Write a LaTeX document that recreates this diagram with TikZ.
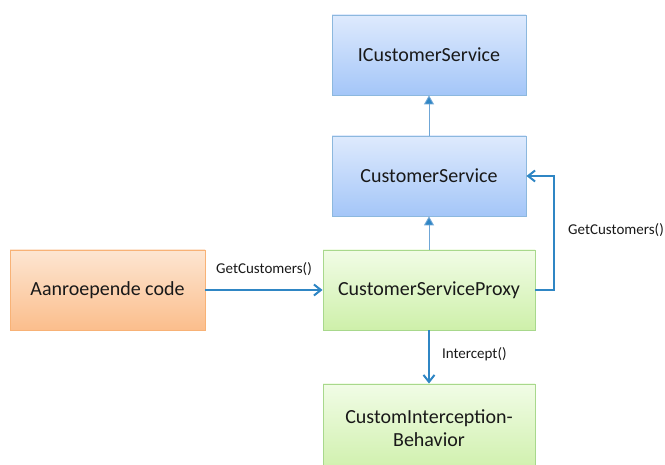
\documentclass[tikz,border=0pt]{standalone}
\usepackage{fontspec}
\setmainfont{Carlito}
\usetikzlibrary{arrows.meta}
\definecolor{arrowblue}{HTML}{2F86C4}
\definecolor{thinblue}{HTML}{6FA6D6}
\tikzset{
  box/.style={draw, line width=0.9pt, minimum width=194pt, minimum height=80pt,
    inner sep=4pt, align=center, font=\fontsize{20}{24}\selectfont, text=black!90},
  bluebox/.style={box, draw=thinblue!80, bottom color={rgb,255:red,164;green,198;blue,248},
    top color={rgb,255:red,222;green,234;blue,253}},
  greenbox/.style={box, minimum width=212pt, draw={rgb,255:red,168;green,216;blue,140},
    top color={rgb,255:red,241;green,252;blue,230}, bottom color={rgb,255:red,206;green,240;blue,170}},
  orangebox/.style={box, minimum width=195pt, draw={rgb,255:red,248;green,178;blue,118},
    top color={rgb,255:red,253;green,230;blue,210}, bottom color={rgb,255:red,251;green,190;blue,140}},
  inherit/.style={draw=thinblue, line width=0.9pt, -{Triangle[length=9pt,width=10pt,fill=arrowblue]}},
  call/.style={draw=arrowblue, line width=2pt, -{Straight Barb[length=7pt,width=11pt,line width=2pt]}},
  lbl/.style={font=\fontsize{15}{18}\selectfont, text=black!90, inner sep=0pt}
}
\begin{document}
\begin{tikzpicture}[x=1pt,y=1pt]
  \useasboundingbox (0,0) rectangle (665,464);
  % interface and implementation
  \node[bluebox] (ics) at (429,409) {ICustomerService};
  \node[bluebox] (cs) at (429,288) {CustomerService};
  % proxy, caller and behavior
  \node[greenbox] (proxy) at (429,174) {CustomerServiceProxy};
  \node[orangebox] (caller) at (107.5,174) {Aanroepende code};
  \node[greenbox, minimum height=90pt, text depth=0pt] (cib) at (429,35)
    {\raisebox{15pt}{\begin{tabular}{@{}c@{}}CustomInterception-\\[-1pt]Behavior\end{tabular}}};
  % inheritance links
  \draw[inherit] (cs.north) -- (ics.south);
  \draw[inherit] (proxy.north) -- (cs.south);
  % calls
  \draw[call] (caller.east) -- node[lbl, above=13pt] {GetCustomers()} (proxy.west);
  \coordinate (bend) at (554,174);
  \draw[call] (proxy.east) -- (bend) |- (cs.east);
  \node[lbl, anchor=west] (lblgc) at (568,234) {GetCustomers()};
  \draw[call] (proxy.south) -- node[lbl, right=12pt, pos=0.45] {Intercept()} (cib.north);
\end{tikzpicture}
\end{document}
